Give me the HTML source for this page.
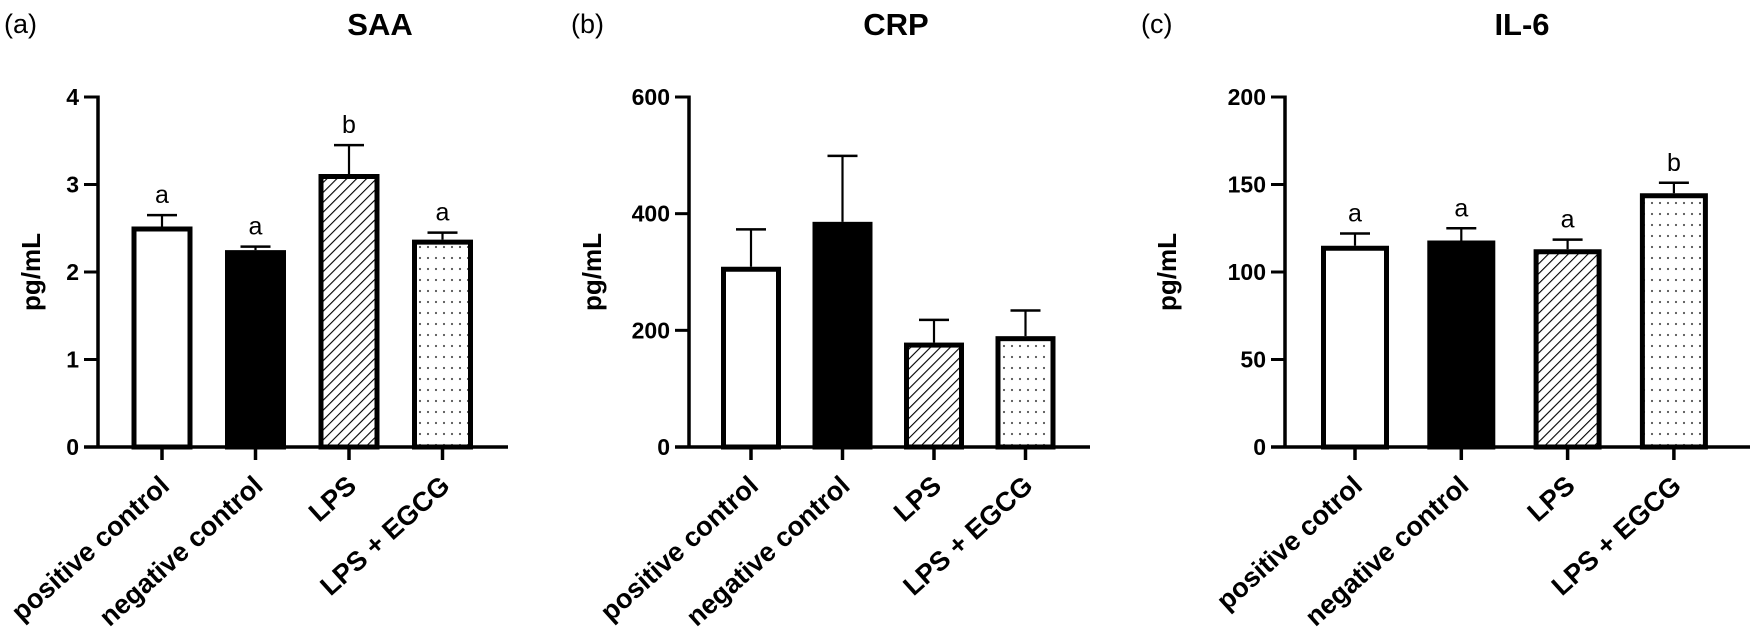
<!DOCTYPE html>
<html><head><meta charset="utf-8"><style>
html,body{margin:0;padding:0;background:#fff;}
svg{display:block;font-family:"Liberation Sans",Arial,sans-serif;}
</style></head><body>
<svg id="chart" width="1750" height="630" viewBox="0 0 1750 630" xmlns="http://www.w3.org/2000/svg">
<defs>
<pattern id="hatch" patternUnits="userSpaceOnUse" width="7" height="7" patternTransform="rotate(45)">
<rect width="7" height="7" fill="#fff"/><line x1="0" y1="0" x2="0" y2="7" stroke="#000" stroke-width="2.2"/>
</pattern>
<pattern id="dots" patternUnits="userSpaceOnUse" width="8" height="11">
<rect width="8" height="11" fill="#fff"/><circle cx="4" cy="5" r="1.1" fill="#555"/>
</pattern>
</defs>
</svg>
<script>
const categoriesA = ["positive control","negative control","LPS","LPS + EGCG"];
const categoriesB = ["positive control","negative control","LPS","LPS + EGCG"];
const categoriesC = ["positive cotrol","negative control","LPS","LPS + EGCG"];
const saaValues = [2.52, 2.25, 3.12, 2.37];
const saaErrors = [0.13, 0.04, 0.33, 0.08];
const saaLetters = ["a","a","b","a"];
const saaTicks = [0,1,2,3,4];
const crpValues = [309, 386, 179, 190];
const crpErrors = [64, 113, 39, 44];
const crpLetters = ["","","",""];
const crpTicks = [0,200,400,600];
const il6Values = [115, 118, 113, 145];
const il6Errors = [7, 7, 5.5, 6];
const il6Letters = ["a","a","a","b"];
const il6Ticks = [0,50,100,150,200];

const svg = document.getElementById('chart');
const NS = "http://www.w3.org/2000/svg";
function mk(tag, attrs, parent){
  const e = document.createElementNS(NS, tag);
  for (const k in attrs) e.setAttribute(k, attrs[k]);
  (parent||svg).appendChild(e);
  return e;
}
const fills = ["#fff","#000","url(#hatch)","url(#dots)"];

function panel(cfg){
  const g = mk('g', {});
  
  
  const y0 = 447, yTop = 97;
  const ymax = cfg.ticks[cfg.ticks.length-1];
  const y = v => y0 - (v/ymax)*(y0-yTop);
  const x = i => cfg.axisX + cfg.first + i*cfg.step;
  let t = mk('text', {x: cfg.letterX, y: 33, 'font-size': 27}, g);
  t.textContent = cfg.letter;
  
  
  t = mk('text', {x: cfg.titleX, y: 35, 'font-size': 31, 'font-weight': 'bold', 'text-anchor': 'middle'}, g);
  t.textContent = cfg.title;
  
  
  cfg.values.forEach((v, i) => {
    const cx = x(i), top = y(v), et = y(v + cfg.errors[i]);
    const eb = mk('line', {x1: cx, x2: cx, y1: top, y2: et, stroke: '#000', 'stroke-width': 2.2}, g);
    
    
    const cap = mk('line', {x1: cx-15, x2: cx+15, y1: et, y2: et, stroke: '#000', 'stroke-width': 2.5}, g);
    
    
    const r = mk('rect', {x: cx - cfg.bw/2 + 2.5, y: top + 2.5, width: cfg.bw - 5, height: y0 - top - 2.5, fill: fills[i], stroke: '#000', 'stroke-width': 5}, g);
    
    
    if (cfg.letters[i]) {
      const l = mk('text', {x: cx, y: et - 12, 'font-size': 25, 'text-anchor': 'middle'}, g);
      l.textContent = cfg.letters[i];
      
      
    }
    const tk = mk('line', {x1: cx, x2: cx, y1: y0, y2: y0 + 13, stroke: '#000', 'stroke-width': 3.5}, g);
    
    
    const lab = mk('text', {x: 0, y: 0, 'font-size': 27, 'font-weight': 'bold', 'text-anchor': 'end', transform: `translate(${cx+9},${y0+41}) rotate(-42)`}, g);
    lab.textContent = cfg.cats[i];
    
    
  });
  const ya = mk('line', {x1: cfg.axisX, x2: cfg.axisX, y1: yTop - 1.5, y2: y0 + 1.5, stroke: '#000', 'stroke-width': 3.5}, g);
  
  
  const xa = mk('line', {x1: cfg.axisX - 14, x2: cfg.axisEnd, y1: y0, y2: y0, stroke: '#000', 'stroke-width': 3.5}, g);
  
  
  cfg.ticks.forEach(v => {
    const tl = mk('line', {x1: cfg.axisX - 14, x2: cfg.axisX, y1: y(v), y2: y(v), stroke: '#000', 'stroke-width': 3}, g);
    
    
    const tt = mk('text', {x: cfg.axisX - 19, y: y(v) + 8, 'font-size': 23, 'font-weight': 'bold', 'text-anchor': 'end'}, g);
    tt.textContent = v;
    
    
  });
  const yl = mk('text', {x: 0, y: 0, 'font-size': 26, 'font-weight': 'bold', 'text-anchor': 'middle', transform: `translate(${cfg.ylabX},272) rotate(-90)`}, g);
  yl.textContent = 'pg/mL';
  
  
}

panel({name:'saa', letter:'(a)', letterX:4, title:'SAA', titleX:380, axisX:98, axisEnd:508, first:64, step:93.5, bw:61,
  cats:categoriesA, values:saaValues, errors:saaErrors, letters:saaLetters, ticks:saaTicks, ylabX:40});
panel({name:'crp', letter:'(b)', letterX:571, title:'CRP', titleX:896, axisX:689, axisEnd:1090, first:62, step:91.5, bw:60,
  cats:categoriesB, values:crpValues, errors:crpErrors, letters:crpLetters, ticks:crpTicks, ylabX:601});
panel({name:'il6', letter:'(c)', letterX:1141, title:'IL-6', titleX:1522, axisX:1285, axisEnd:1750, first:70, step:106.3, bw:68,
  cats:categoriesC, values:il6Values, errors:il6Errors, letters:il6Letters, ticks:il6Ticks, ylabX:1176});
</script>
</body></html>
